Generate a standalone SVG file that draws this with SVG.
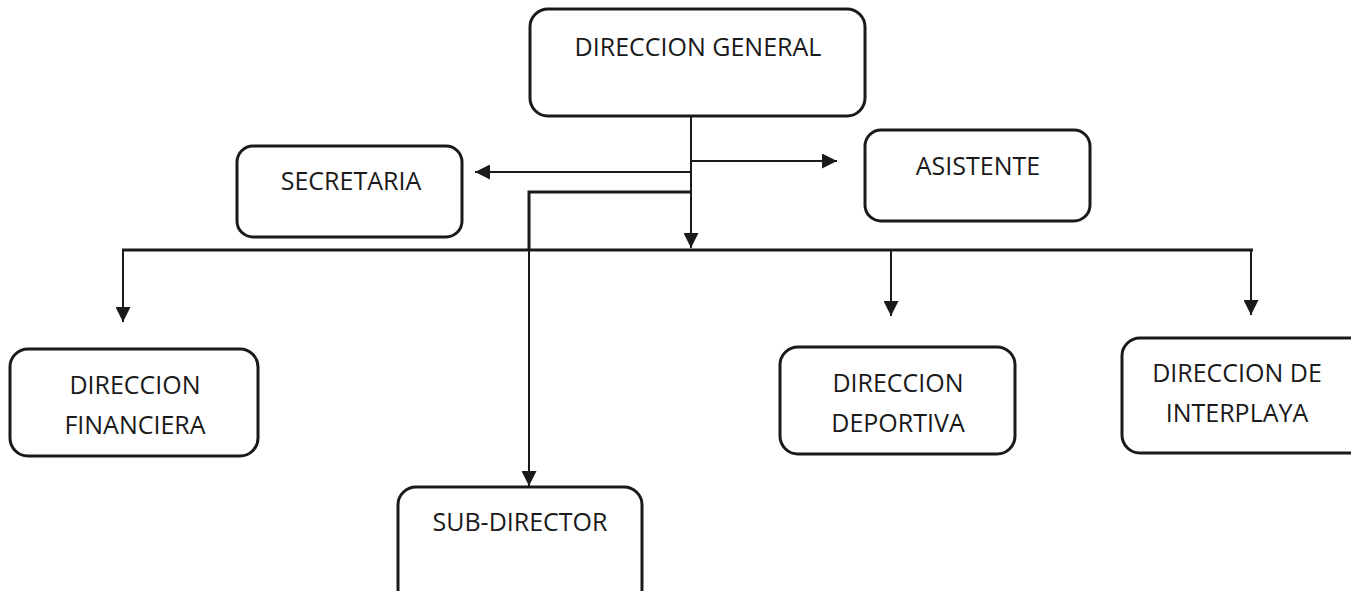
<svg xmlns="http://www.w3.org/2000/svg" width="1351" height="591" viewBox="0 0 1351 591">
<style>
.box{fill:#fff;stroke:#1a1a1a;stroke-width:3}
.t{font-family:"Open Sans","Liberation Sans",sans-serif;font-size:25px;fill:#1a1a1a;text-anchor:middle}
.ln{stroke:#1a1a1a;stroke-width:2;fill:none}
.thick{stroke:#1a1a1a;stroke-width:3;fill:none}
</style>
<defs>
<marker id="ahb" viewBox="0 0 10 10" refX="10" refY="5" markerWidth="15" markerHeight="15" markerUnits="userSpaceOnUse" orient="auto">
<path d="M0,0 L10,5 L0,10 Z" fill="#1a1a1a"/>
</marker>
</defs>
<rect width="1351" height="591" fill="#fff"/>
<g id="connectors">
<line class="ln" x1="691" y1="113" x2="691" y2="248" marker-end="url(#ahb)"/>
<line class="ln" x1="691" y1="161" x2="837" y2="161" marker-end="url(#ahb)"/>
<line class="ln" x1="691" y1="172" x2="475" y2="172" marker-end="url(#ahb)"/>
<polyline class="thick" points="692,192 529,192 529,250"/>
<line class="ln" x1="529" y1="250" x2="529" y2="486" marker-end="url(#ahb)"/>
<line class="thick" x1="122" y1="250" x2="1253" y2="250"/>
<line class="ln" x1="123" y1="250" x2="123" y2="322" marker-end="url(#ahb)"/>
<line class="ln" x1="891" y1="250" x2="891" y2="316" marker-end="url(#ahb)"/>
<line class="ln" x1="1251" y1="250" x2="1251" y2="315" marker-end="url(#ahb)"/>
</g>
<g id="direccion-general">
<rect class="box" x="530" y="9" width="335" height="107" rx="18"/>
<text class="t" x="698" y="56">DIRECCION GENERAL</text>
</g>
<g id="secretaria">
<rect class="box" x="237" y="146" width="225" height="91" rx="16"/>
<text class="t" x="351" y="190">SECRETARIA</text>
</g>
<g id="asistente">
<rect class="box" x="865" y="130" width="225" height="91" rx="16"/>
<text class="t" x="978" y="175">ASISTENTE</text>
</g>
<g id="direccion-financiera">
<rect class="box" x="10" y="349" width="248" height="107" rx="18"/>
<text class="t" x="135" y="394">DIRECCION</text>
<text class="t" x="135" y="434">FINANCIERA</text>
</g>
<g id="sub-director">
<rect class="box" x="398" y="487" width="244" height="120" rx="18"/>
<text class="t" x="520" y="531">SUB-DIRECTOR</text>
</g>
<g id="direccion-deportiva">
<rect class="box" x="780" y="347" width="235" height="107" rx="18"/>
<text class="t" x="898" y="392">DIRECCION</text>
<text class="t" x="898" y="432">DEPORTIVA</text>
</g>
<g id="direccion-interplaya">
<rect class="box" x="1122" y="338" width="245" height="115" rx="18"/>
<text class="t" x="1237" y="382">DIRECCION DE</text>
<text class="t" x="1237" y="422">INTERPLAYA</text>
</g>
</svg>
